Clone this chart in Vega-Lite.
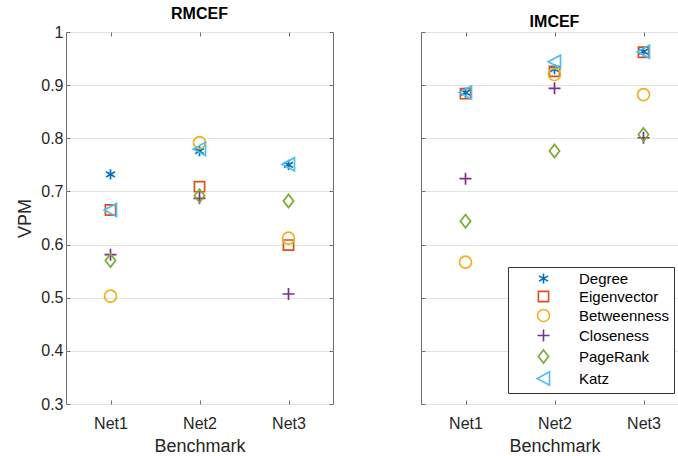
{
  "$schema": "https://vega.github.io/schema/vega-lite/v6.json",
  "padding": {"left": 16, "top": 5, "right": 0, "bottom": 0},
  "datasets": {
    "vpm": [
      {"panel": "RMCEF", "net": "Net1", "method": "Degree", "vpm": 0.732},
      {"panel": "RMCEF", "net": "Net2", "method": "Degree", "vpm": 0.776},
      {"panel": "RMCEF", "net": "Net3", "method": "Degree", "vpm": 0.750},
      {"panel": "RMCEF", "net": "Net1", "method": "Eigenvector", "vpm": 0.665},
      {"panel": "RMCEF", "net": "Net2", "method": "Eigenvector", "vpm": 0.709},
      {"panel": "RMCEF", "net": "Net3", "method": "Eigenvector", "vpm": 0.599},
      {"panel": "RMCEF", "net": "Net1", "method": "Betweenness", "vpm": 0.503},
      {"panel": "RMCEF", "net": "Net2", "method": "Betweenness", "vpm": 0.792},
      {"panel": "RMCEF", "net": "Net3", "method": "Betweenness", "vpm": 0.612},
      {"panel": "RMCEF", "net": "Net1", "method": "Closeness", "vpm": 0.581},
      {"panel": "RMCEF", "net": "Net2", "method": "Closeness", "vpm": 0.687},
      {"panel": "RMCEF", "net": "Net3", "method": "Closeness", "vpm": 0.507},
      {"panel": "RMCEF", "net": "Net1", "method": "PageRank", "vpm": 0.570},
      {"panel": "RMCEF", "net": "Net2", "method": "PageRank", "vpm": 0.692},
      {"panel": "RMCEF", "net": "Net3", "method": "PageRank", "vpm": 0.682},
      {"panel": "RMCEF", "net": "Net1", "method": "Katz", "vpm": 0.665},
      {"panel": "RMCEF", "net": "Net2", "method": "Katz", "vpm": 0.780},
      {"panel": "RMCEF", "net": "Net3", "method": "Katz", "vpm": 0.751},
      {"panel": "IMCEF", "net": "Net1", "method": "Degree", "vpm": 0.886},
      {"panel": "IMCEF", "net": "Net2", "method": "Degree", "vpm": 0.930},
      {"panel": "IMCEF", "net": "Net3", "method": "Degree", "vpm": 0.963},
      {"panel": "IMCEF", "net": "Net1", "method": "Eigenvector", "vpm": 0.884},
      {"panel": "IMCEF", "net": "Net2", "method": "Eigenvector", "vpm": 0.926},
      {"panel": "IMCEF", "net": "Net3", "method": "Eigenvector", "vpm": 0.962},
      {"panel": "IMCEF", "net": "Net1", "method": "Betweenness", "vpm": 0.567},
      {"panel": "IMCEF", "net": "Net2", "method": "Betweenness", "vpm": 0.920},
      {"panel": "IMCEF", "net": "Net3", "method": "Betweenness", "vpm": 0.882},
      {"panel": "IMCEF", "net": "Net1", "method": "Closeness", "vpm": 0.724},
      {"panel": "IMCEF", "net": "Net2", "method": "Closeness", "vpm": 0.894},
      {"panel": "IMCEF", "net": "Net3", "method": "Closeness", "vpm": 0.801},
      {"panel": "IMCEF", "net": "Net1", "method": "PageRank", "vpm": 0.644},
      {"panel": "IMCEF", "net": "Net2", "method": "PageRank", "vpm": 0.776},
      {"panel": "IMCEF", "net": "Net3", "method": "PageRank", "vpm": 0.807},
      {"panel": "IMCEF", "net": "Net1", "method": "Katz", "vpm": 0.886},
      {"panel": "IMCEF", "net": "Net2", "method": "Katz", "vpm": 0.944},
      {"panel": "IMCEF", "net": "Net3", "method": "Katz", "vpm": 0.963}
    ]
  },
  "config": {
    "font": "Liberation Sans",
    "view": {"stroke": "#6e6e6e", "strokeWidth": 1},
    "title": {"fontSize": 16, "fontWeight": "bold", "color": "#000000", "offset": 2},
    "axis": {
      "labelFontSize": 16,
      "titleFontSize": 18,
      "titleFontWeight": "normal",
      "labelColor": "#262626",
      "titleColor": "#262626",
      "domain": false,
      "tickColor": "#6e6e6e",
      "tickSize": -4,
      "gridColor": "#e3e3e3",
      "gridWidth": 1
    },
    "legend": {
      "orient": "none",
      "legendX": 442,
      "legendY": 235,
      "title": null,
      "strokeColor": "#333333",
      "fillColor": "#ffffff",
      "padding": 4,
      "rowPadding": 1,
      "symbolOffset": 24,
      "labelOffset": 28,
      "labelFontSize": 15,
      "labelColor": "#000000",
      "symbolSize": 144,
      "symbolStrokeWidth": 1.6,
      "labelLimit": 200
    }
  },
  "spacing": 86,
  "resolve": {"scale": {"color": "shared", "shape": "shared"}},
  "hconcat": [
    {
      "width": 267,
      "height": 372,
      "title": "RMCEF",
      "data": {"name": "vpm"},
      "transform": [{"filter": "datum.panel === 'RMCEF'"}],
      "layer": [
        {
          "mark": {"type": "point", "filled": false, "size": 144, "strokeWidth": 1.7, "opacity": 1},
          "encoding": {
            "x": {"field": "net", "type": "ordinal", "scale": {"type": "point", "padding": 0.5}, "axis": {"title": "Benchmark", "labelAngle": 0, "labelPadding": 15, "titlePadding": 6}},
            "y": {"field": "vpm", "type": "quantitative", "scale": {"domain": [0.3, 1], "nice": false, "zero": false}, "axis": {"title": "VPM", "format": "~g", "values": [0.3, 0.4, 0.5, 0.6, 0.7, 0.8, 0.9, 1], "labelPadding": 7, "titlePadding": 6}},
            "color": {"field": "method", "type": "nominal", "scale": {"domain": ["Degree", "Eigenvector", "Betweenness", "Closeness", "PageRank", "Katz"], "range": ["#0072BD", "#D95319", "#EDB120", "#7E2F8E", "#77AC30", "#4DBEEE"]}},
            "shape": {"field": "method", "type": "nominal", "scale": {"domain": ["Degree", "Eigenvector", "Betweenness", "Closeness", "PageRank", "Katz"], "range": ["M0,-0.85L0,0.85M-0.74,-0.43L0.74,0.43M-0.74,0.43L0.74,-0.43", "M-0.85,-0.85H0.85V0.85H-0.85Z", "M1,0A1,1,0,1,1,-1,0A1,1,0,1,1,1,0Z", "M-1,0H1M0,-1V1", "M0,-1.1L0.85,0L0,1.1L-0.85,0Z", "M-1.05,0L1,-1.1L1,1.1Z"]}}
          }
        },
        {
          "mark": {"type": "point", "opacity": 0},
          "encoding": {
            "x": {"field": "net", "type": "ordinal", "scale": {"type": "point", "padding": 0.5}, "axis": {"orient": "top", "labels": false, "title": null, "grid": false}},
            "y": {"field": "vpm", "type": "quantitative", "scale": {"domain": [0.3, 1], "nice": false, "zero": false}, "axis": {"orient": "right", "labels": false, "title": null, "grid": false, "values": [0.3, 0.4, 0.5, 0.6, 0.7, 0.8, 0.9, 1]}}
          }
        }
      ],
      "resolve": {"axis": {"x": "independent", "y": "independent"}}
    },
    {
      "width": 267,
      "height": 372,
      "title": "IMCEF",
      "data": {"name": "vpm"},
      "transform": [{"filter": "datum.panel === 'IMCEF'"}],
      "layer": [
        {
          "mark": {"type": "point", "filled": false, "size": 144, "strokeWidth": 1.7, "opacity": 1},
          "encoding": {
            "x": {"field": "net", "type": "ordinal", "scale": {"type": "point", "padding": 0.5}, "axis": {"title": "Benchmark", "labelAngle": 0, "labelPadding": 15, "titlePadding": 6}},
            "y": {"field": "vpm", "type": "quantitative", "scale": {"domain": [0.3, 1], "nice": false, "zero": false}, "axis": {"title": null, "labels": false, "values": [0.3, 0.4, 0.5, 0.6, 0.7, 0.8, 0.9, 1]}},
            "color": {"field": "method", "type": "nominal", "scale": {"domain": ["Degree", "Eigenvector", "Betweenness", "Closeness", "PageRank", "Katz"], "range": ["#0072BD", "#D95319", "#EDB120", "#7E2F8E", "#77AC30", "#4DBEEE"]}},
            "shape": {"field": "method", "type": "nominal", "scale": {"domain": ["Degree", "Eigenvector", "Betweenness", "Closeness", "PageRank", "Katz"], "range": ["M0,-0.85L0,0.85M-0.74,-0.43L0.74,0.43M-0.74,0.43L0.74,-0.43", "M-0.85,-0.85H0.85V0.85H-0.85Z", "M1,0A1,1,0,1,1,-1,0A1,1,0,1,1,1,0Z", "M-1,0H1M0,-1V1", "M0,-1.1L0.85,0L0,1.1L-0.85,0Z", "M-1.05,0L1,-1.1L1,1.1Z"]}}
          }
        },
        {
          "mark": {"type": "point", "opacity": 0},
          "encoding": {
            "x": {"field": "net", "type": "ordinal", "scale": {"type": "point", "padding": 0.5}, "axis": {"orient": "top", "labels": false, "title": null, "grid": false}},
            "y": {"field": "vpm", "type": "quantitative", "scale": {"domain": [0.3, 1], "nice": false, "zero": false}, "axis": {"orient": "right", "labels": false, "title": null, "grid": false, "values": [0.3, 0.4, 0.5, 0.6, 0.7, 0.8, 0.9, 1]}}
          }
        }
      ],
      "resolve": {"axis": {"x": "independent", "y": "independent"}}
    }
  ]
}
